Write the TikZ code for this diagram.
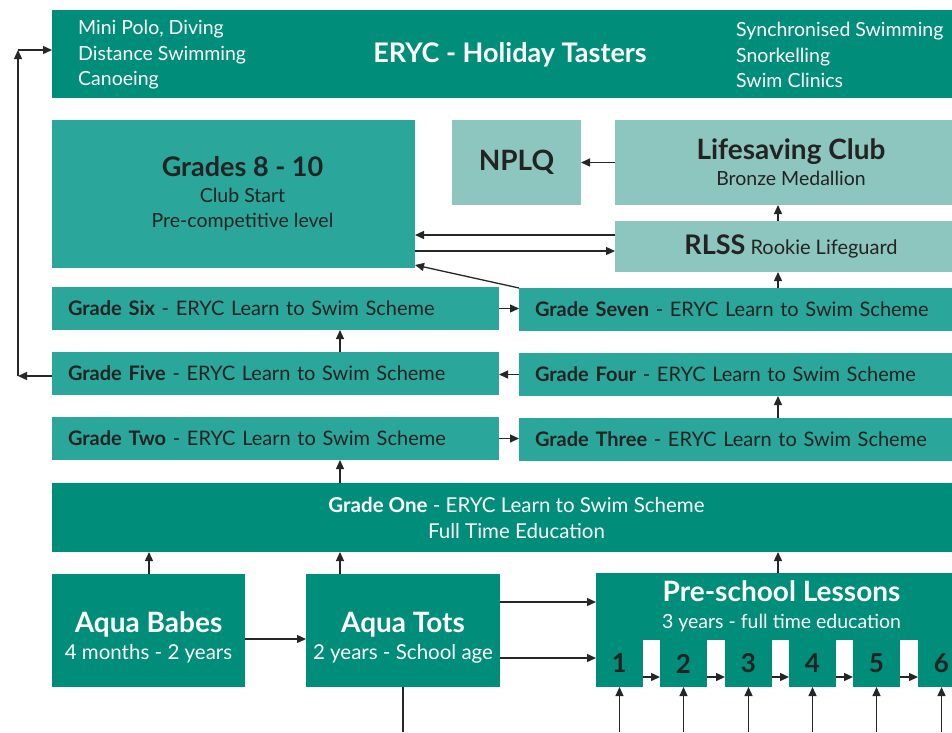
\documentclass[tikz,border=0pt]{standalone}
\usepackage{fontspec}
\setmainfont{Lato}
\usepackage{tikz}
\usetikzlibrary{arrows.meta}

\definecolor{darkteal}{RGB}{0,142,122}
\definecolor{midteal}{RGB}{42,167,154}
\definecolor{paleteal}{RGB}{141,198,191}
\definecolor{inkgrey}{RGB}{35,35,35}
\newcommand{\sz}[2]{\fontsize{#1}{#2}\selectfont}

\begin{document}
\begin{tikzpicture}[x=1pt,y=-1pt]
\tikzset{box/.style={anchor=north west, inner sep=0pt, outer sep=0pt},
  darkbox/.style={box, fill=darkteal, text=white, align=center},
  midbox/.style={box, fill=midteal, text=inkgrey},
  palebox/.style={box, fill=paleteal, text=inkgrey, align=center},
  gradebox/.style={midbox, minimum height=43pt, inner xsep=16pt, text width=#1, align=left, font=\sz{20}{24}},
  tabbox/.style={box, fill=darkteal, text=inkgrey, minimum width=47pt, minimum height=47pt, font=\bfseries\sz{26}{30}},
  listtext/.style={text=white, anchor=west, inner sep=0pt, align=left, font=\sz{19.5}{25.5}}}
\tikzstyle{myarrowstyle} = [-{Triangle[length=9pt,width=8pt]}, line width=1.3pt, draw=black!85]

\useasboundingbox (0,0) rectangle (952,732);
\clip (0,0) rectangle (952,732);

% holiday tasters
\node[darkbox, minimum width=915pt, minimum height=88pt] (hdr) at (52,10) {};
\node[text=white, font=\bfseries\sz{27}{30}] (title) at (510,55) {ERYC - Holiday Tasters};
\node[listtext] (lst1) at (78,55) {Mini Polo, Diving\\Distance Swimming\\Canoeing};
\node[listtext] (lst2) at (736,55) {Synchronised Swimming\\Snorkelling\\Swim Clinics};

% club and lifesaving
\node[midbox, minimum width=363pt, minimum height=148pt,
  label={[text=inkgrey, align=center, font=\sz{19.5}{25.5}, xshift=9pt]center:{{\bfseries\sz{27}{30}Grades 8 - 10}\\Club Start\\Pre-competitive level}}] (g810) at (52,120) {};
\node[palebox, minimum width=129pt, minimum height=85pt, font=\bfseries\sz{28}{32}] (nplq) at (452,120) {NPLQ};
\node[palebox, minimum width=352pt, minimum height=85pt, font=\sz{19.5}{26}] (lsc) at (615,120) {{\bfseries\sz{28}{30}Lifesaving Club}\\Bronze Medallion};
\node[palebox, minimum width=352pt, minimum height=51pt, font=\sz{20}{24}] (rlss) at (615,221) {{\bfseries\sz{27}{30}RLSS} Rookie Lifeguard};

% learn to swim grades
\node[gradebox=415pt] (g6) at (52,287) {\textbf{Grade Six} - ERYC Learn to Swim Scheme};
\node[gradebox=416pt] (g7) at (519,288) {\textbf{Grade Seven} - ERYC Learn to Swim Scheme};
\node[gradebox=415pt] (g5) at (52,352) {\textbf{Grade Five} - ERYC Learn to Swim Scheme};
\node[gradebox=416pt] (g4) at (519,353) {\textbf{Grade Four} - ERYC Learn to Swim Scheme};
\node[gradebox=415pt] (g2) at (52,417) {\textbf{Grade Two} - ERYC Learn to Swim Scheme};
\node[gradebox=416pt] (g3) at (519,418) {\textbf{Grade Three} - ERYC Learn to Swim Scheme};
\node[darkbox, minimum width=929pt, minimum height=69pt, font=\sz{20.5}{26}] (g1) at (52,483) {\textbf{Grade One} - ERYC Learn to Swim Scheme\\Full Time Education};

% early years
\node[darkbox, minimum width=193pt, minimum height=113pt,
  label={[text=white, align=center, font=\sz{20.5}{27}, yshift=-7pt]center:{{\bfseries\sz{28}{30}Aqua Babes}\\4 months - 2 years}}] (babes) at (52,574) {};
\node[darkbox, minimum width=194pt, minimum height=113pt,
  label={[text=white, align=center, font=\sz{20.5}{27}, yshift=-7pt]center:{{\bfseries\sz{28}{30}Aqua Tots}\\2 years - School age}}] (tots) at (306,574) {};
\node[darkbox, minimum width=371pt, minimum height=67pt, font=\sz{19.5}{27}] (pre) at (596,573) {{\bfseries\sz{28}{30}Pre-school Lessons}\\3 years - full time education};
\foreach \n/\x in {1/596,2/660,3/725,4/789,5/853,6/918}
  \node[tabbox] (t\n) at (\x,640) {\n};

\coordinate (xb) at (149,0);
\coordinate (xl) at (340,0);
\coordinate (xr) at (778,0);
\coordinate (cl) at (18,376);
\coordinate (ct) at (18,50);
\coordinate (ya) at (0,235);
\coordinate (yb) at (0,251);
\coordinate (yc) at (0,639);
\coordinate (yd) at (0,602);
\coordinate (ye) at (0,658);
\coordinate (yf) at (0,677);
\coordinate (bot) at (0,732);

\draw[myarrowstyle] (g5.west |- cl) -- (cl);
\draw[myarrowstyle] (cl) -- (ct);
\draw[myarrowstyle] (ct) -- (ct -| hdr.west);

\draw[myarrowstyle] (lsc.west) -- (nplq.east);
\draw[myarrowstyle] (rlss.north -| xr) -- (lsc.south -| xr);
\draw[myarrowstyle] (g7.north -| xr) -- (rlss.south -| xr);
\draw[myarrowstyle] (rlss.west |- ya) -- (g810.east |- ya);
\draw[myarrowstyle] (g810.east |- yb) -- (rlss.west |- yb);
\draw[myarrowstyle] (g7.north west) -- ([yshift=3pt]g810.south east);

\draw[myarrowstyle] (g6.east) -- (g6.east -| g7.west);
\draw[myarrowstyle] (g5.north -| xl) -- (g6.south -| xl);
\draw[myarrowstyle] (g4.west) -- (g4.west -| g5.east);
\draw[myarrowstyle] (g3.north -| xr) -- (g4.south -| xr);
\draw[myarrowstyle] (g2.east) -- (g2.east -| g3.west);
\draw[myarrowstyle] (g1.north -| xl) -- (g2.south -| xl);

\draw[myarrowstyle] (babes.north -| xb) -- (g1.south -| xb);
\draw[myarrowstyle] (tots.north -| xl) -- (g1.south -| xl);
\draw[myarrowstyle] (pre.north -| xr) -- (g1.south -| xr);
\draw[myarrowstyle] (babes.east |- yc) -- (tots.west |- yc);
\draw[myarrowstyle] (tots.east |- yd) -- (pre.west |- yd);
\draw[myarrowstyle] (tots.east |- ye) -- (pre.west |- ye);
\draw[line width=1.3pt, draw=black!85] (tots.south) -- (tots.south |- bot);

\foreach \i/\j in {1/2,2/3,3/4,4/5,5/6}
  \draw[myarrowstyle] (t\i.east |- yf) -- (t\j.west |- yf);
\foreach \i in {1,...,6}
  \draw[myarrowstyle] (t\i.south |- bot) -- (t\i.south);
\end{tikzpicture}
\end{document}
